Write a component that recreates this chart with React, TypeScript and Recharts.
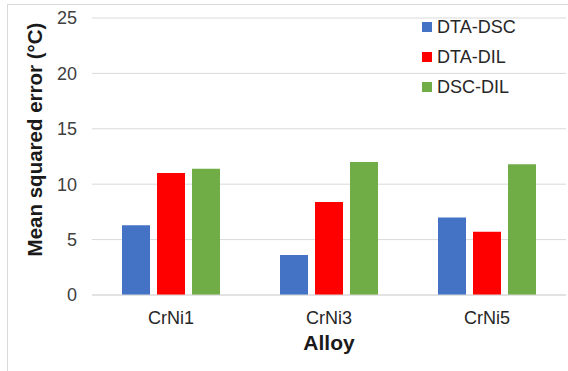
import React from "react";
import { BarChart, Bar, XAxis, YAxis, CartesianGrid } from "recharts";

const alloys = ["CrNi1", "CrNi3", "CrNi5"];
const dtaDsc = [6.3, 3.6, 7.0];
const dtaDil = [11.0, 8.4, 5.7];
const dscDil = [11.4, 12.0, 11.8];
const yTicks = [0, 5, 10, 15, 20, 25];

const series = [
  { key: "DTA-DSC", color: "#4472C4" },
  { key: "DTA-DIL", color: "#FF0000" },
  { key: "DSC-DIL", color: "#70AD47" },
];

const rows = alloys.map((a, i) => ({
  alloy: a,
  "DTA-DSC": dtaDsc[i],
  "DTA-DIL": dtaDil[i],
  "DSC-DIL": dscDil[i],
}));

const font = "'Liberation Sans', Arial, sans-serif";

function LegendBox() {
  return (
    <div
      style={{
        position: "absolute",
        left: 422,
        top: 12,
        fontFamily: font,
        fontSize: 18,
        color: "#262626",
      }}
    >
      {series.map((s) => (
        <div key={s.key} style={{ display: "flex", alignItems: "center", height: 30 }}>
          <span style={{ width: 10, height: 10, background: s.color, marginRight: 5 }} />
          {s.key}
        </div>
      ))}
    </div>
  );
}

export default function App() {
  return (
    <div style={{ position: "absolute", left: 0, top: 0, width: 568, height: 371, background: "#fff" }}>
      <div
        style={{
          position: "absolute",
          left: 7,
          top: 4,
          width: 561,
          height: 367,
          borderLeft: "1px solid #d9d9d9",
          borderTop: "1px solid #d9d9d9",
          boxSizing: "border-box",
        }}
      />
      <div style={{ position: "absolute", left: 0, top: 0 }}>
        <BarChart
          width={568}
          height={371}
          data={rows}
          margin={{ top: 18, right: 2, bottom: 0, left: 0 }}
          barSize={28}
          barGap={7}
        >
          <CartesianGrid vertical={false} stroke="#d9d9d9" />
          <XAxis
            dataKey="alloy"
            height={76}
            axisLine={{ stroke: "#d9d9d9" }}
            tickLine={false}
            tickSize={0}
            tickMargin={16}
            tick={{ fill: "#262626", fontSize: 18, fontFamily: font }}
            label={{
              content: (props: any) => {
                const vb = props.viewBox;
                return (
                  <text
                    x={vb.x + vb.width / 2}
                    y={vb.y + 55}
                    textAnchor="middle"
                    fontFamily={font}
                    fontSize={21}
                    fontWeight="bold"
                    fill="#1a1a1a"
                  >
                    Alloy
                  </text>
                );
              },
            }}
          />
          <YAxis
            width={92}
            domain={[0, 25]}
            ticks={yTicks}
            axisLine={false}
            tickLine={false}
            tickSize={0}
            tickMargin={15}
            tick={{ fill: "#404040", fontSize: 18, fontFamily: font }}
            label={{
              content: (props: any) => {
                const vb = props.viewBox;
                const cx = 42;
                const cy = vb.y + vb.height / 2 - 17;
                return (
                  <text
                    x={cx}
                    y={cy}
                    transform={`rotate(-90, ${cx}, ${cy})`}
                    textAnchor="middle"
                    fontFamily={font}
                    fontSize={20.5}
                    fontWeight="bold"
                    fill="#1a1a1a"
                  >
                    Mean squared error (°C)
                  </text>
                );
              },
            }}
          />
          {series.map((s) => (
            <Bar key={s.key} dataKey={s.key} fill={s.color} isAnimationActive={false} />
          ))}
        </BarChart>
      </div>
      <LegendBox />
    </div>
  );
}
